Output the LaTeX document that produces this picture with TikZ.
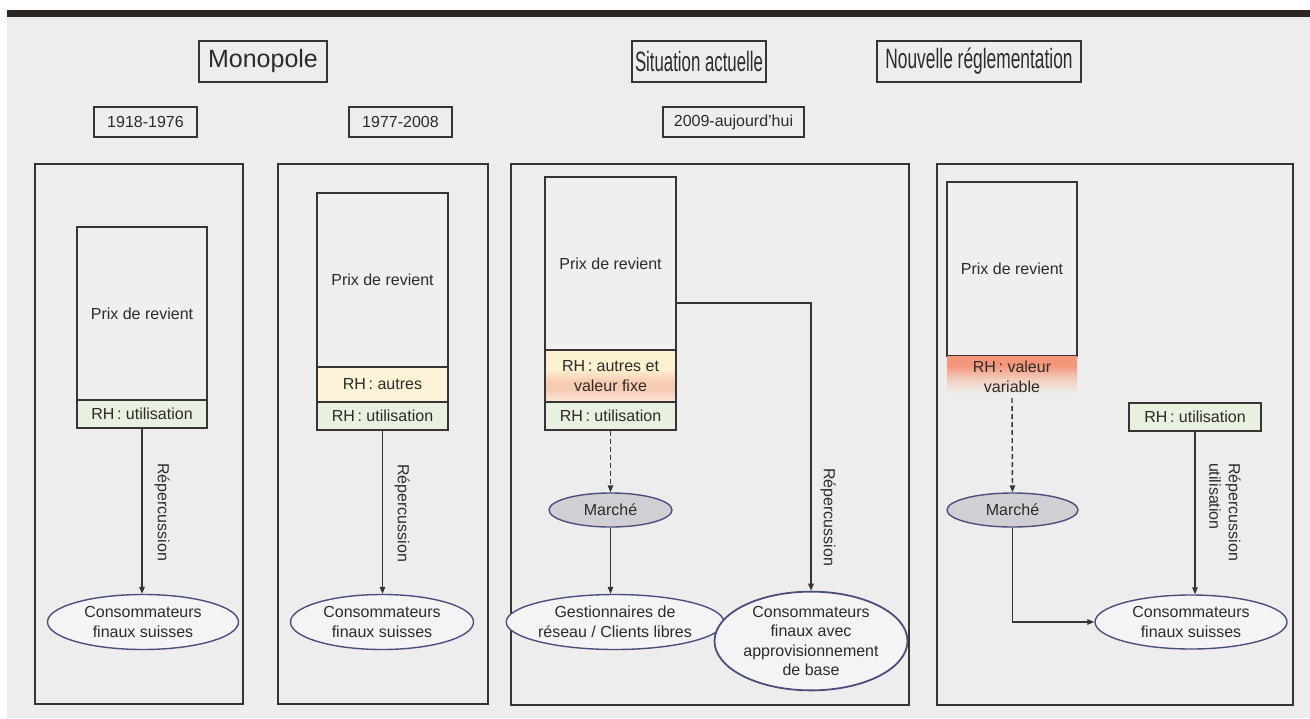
\documentclass[tikz,border=0pt]{standalone}
\usepackage{fontspec}
\setmainfont{Liberation Sans}
\usepackage{graphicx}
\usetikzlibrary{arrows.meta,shapes.geometric,calc}
\definecolor{bgc}{HTML}{EDEDED}
\definecolor{band}{HTML}{2B2624}
\definecolor{linec}{HTML}{3A3333}
\definecolor{txtc}{HTML}{2E2A2A}
\definecolor{ellb}{HTML}{4B4F7D}
\definecolor{ellf}{HTML}{F4F4F6}
\definecolor{marf}{HTML}{D0D0D4}
\definecolor{utilf}{HTML}{E8F0DF}
\definecolor{autf}{HTML}{FCF3D8}
\definecolor{prixf}{HTML}{EFEFF0}
\definecolor{fixa}{HTML}{FCF2D2}
\definecolor{fixb}{HTML}{F7CCB4}
\definecolor{fixc}{HTML}{FAE6D8}
\definecolor{vara}{HTML}{F3967A}
\definecolor{varb}{HTML}{F2CDBE}
\pgfdeclareverticalshading{autresfixe}{100bp}{color(0bp)=(fixc); color(25bp)=(fixc); color(37bp)=(fixb); color(45bp)=(fixb); color(57bp)=(fixa); color(100bp)=(fixa)}
\pgfdeclareverticalshading{valvar}{100bp}{color(0bp)=(bgc); color(30bp)=(bgc); color(48bp)=(varb); color(64bp)=(vara); color(100bp)=(vara)}
\tikzset{
  every node/.style={text=txtc, font=\fontsize{16}{19.5}\selectfont},
  panel/.style={draw=linec, line width=1.4pt, inner sep=0pt},
  title/.style={draw=linec, line width=1.4pt, inner sep=0pt, font=\fontsize{28}{32}\selectfont},
  yearbox/.style={draw=linec, line width=1.4pt, inner sep=0pt, minimum height=30pt},
  prix/.style={draw=linec, line width=1.4pt, fill=prixf, inner sep=0pt, align=center},
  util/.style={draw=linec, line width=1.4pt, fill=utilf, inner sep=0pt, minimum height=28pt},
  autres/.style={draw=linec, line width=1.4pt, fill=autf, inner sep=0pt, align=center},
  ell/.style={ellipse, draw=ellb, line width=1.4pt, fill=ellf, inner sep=0pt, align=center},
  marche/.style={ellipse, draw=ellb, line width=1.4pt, fill=marf, inner sep=0pt, minimum height=34pt},
  lbl/.style={rotate=-90, inner sep=0pt, align=left},
  arr/.style={draw=linec, line width=1.4pt, -{Triangle[length=7pt,width=5.5pt]}},
  dasharr/.style={arr, dash pattern=on 5pt off 3pt}
}
\begin{document}
\begin{tikzpicture}[x=1pt,y=-1pt]
\useasboundingbox (0,0) rectangle (1310,718);
\fill[white] (0,0) rectangle (1310,718);
\fill[bgc] (7,10) rectangle (1310,718);
\fill[band] (7,10) rectangle (1310,17);

% titles
\node[title, minimum width=128pt, minimum height=41pt, font=\fontsize{25}{30}\selectfont] (mono) at (263,61.5) {Monopole};
\node[title, minimum width=134pt, minimum height=41pt] (sit) at (699,61.5) {\scalebox{0.6}[1]{Situation actuelle}};
\node[title, minimum width=204pt, minimum height=41pt] (nouv) at (979,61.5) {\scalebox{0.62}[1]{Nouvelle réglementation}};

% years
\node[yearbox, minimum width=103pt] (y1) at (145.5,122) {1918-1976};
\node[yearbox, minimum width=103pt] (y2) at (400.5,122) {1977-2008};
\node[yearbox, minimum width=141pt] (y3) at (733.5,122) {2009-aujourd'hui};

% panels
\node[panel, minimum width=208pt, minimum height=540pt] (P1) at (139,434) {};
\node[panel, minimum width=210pt, minimum height=540pt] (P2) at (383,434) {};
\node[panel, minimum width=398pt, minimum height=541pt] (P3) at (710,434.5) {};
\node[panel, minimum width=356pt, minimum height=541pt] (P4) at (1115,434.5) {};

% panel 1
\node[prix, minimum width=130pt, minimum height=173pt] (p1) at (142,313.5) {Prix de revient};
\node[util, minimum width=130pt] (u1) at (142,414) {RH\,: utilisation};
\node[ell, minimum width=191pt, minimum height=55pt] (c1) at (143,622) {Consommateurs\\finaux suisses};
\draw[arr] (u1.south) -- (u1.south |- c1.north);
\node[lbl] (r1) at (162,512) {Répercussion};

% panel 2
\node[prix, minimum width=131pt, minimum height=174pt] (p2) at (382.5,280) {Prix de revient};
\node[autres, minimum width=131pt, minimum height=35pt] (a2) at (382.5,384.5) {RH\,: autres};
\node[util, minimum width=131pt] (u2) at (382.5,416) {RH\,: utilisation};
\node[ell, minimum width=183pt, minimum height=55pt] (c2) at (382,622) {Consommateurs\\finaux suisses};
\draw[arr] (u2.south) -- (u2.south |- c2.north);
\node[lbl] (r2) at (402,513) {Répercussion};

% panel 3
\node[prix, minimum width=131pt, minimum height=173pt] (p3) at (610.5,263.5) {Prix de revient};
\node[draw=linec, line width=1.4pt, shading=autresfixe, inner sep=0pt, align=center, minimum width=131pt, minimum height=52pt] (a3) at (610.5,376) {RH\,: autres et\\valeur fixe};
\node[util, minimum width=131pt] (u3) at (610.5,416) {RH\,: utilisation};
\node[marche, minimum width=123pt] (m3) at (610.5,510) {Marché};
\node[ell, minimum width=201pt, minimum height=55pt] (g3) at (615,622) {Gestionnaires de\\réseau / Clients libres};
\node[ell, line width=1.8pt, minimum width=193pt, minimum height=93pt] (cb) at (811,641) {Consommateurs\\finaux avec\\approvisionnement\\de base};
\draw[dasharr] (u3.south) -- (m3.north);
\draw[arr] (m3.south) -- (m3.south |- g3.north);
\draw[arr] ([yshift=-39.5pt]p3.east) -| (cb.north);
\node[lbl] (r3) at (828,517) {Répercussion};

% panel 4
\node[prix, minimum width=130pt, minimum height=174pt] (p4) at (1012,269) {Prix de revient};
\node[shading=valvar, inner sep=0pt, align=center, minimum width=130pt, minimum height=42pt] (vv) at (1012,377) {RH\,: valeur\\variable};
\node[util, minimum width=132pt] (u4) at (1195,417) {RH\,: utilisation};
\node[marche, minimum width=131pt] (m4) at (1012.5,510) {Marché};
\node[ell, minimum width=192pt, minimum height=54pt] (c4) at (1191,622) {Consommateurs\\finaux suisses};
\draw[dasharr] (vv.south) -- (m4.north);
\draw[arr] (m4.south) |- (c4.west);
\draw[arr] (u4.south) -- (u4.south |- c4.north);
\node[lbl] (r4) at (1225,512) {Répercussion\\utilisation};
\end{tikzpicture}
\end{document}
